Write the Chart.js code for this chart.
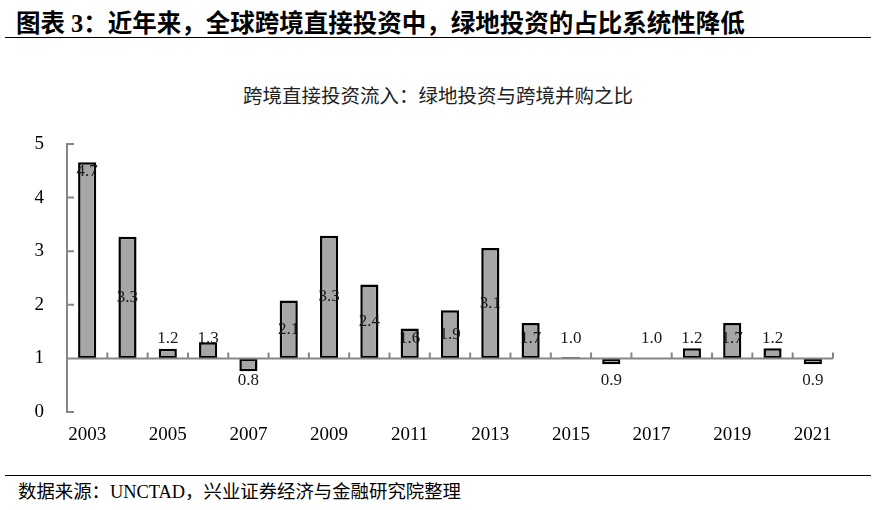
<!DOCTYPE html>
<html>
<head>
<meta charset="utf-8">
<script src="https://cdn.jsdelivr.net/npm/chart.js@4/dist/chart.umd.min.js"></script>
<style>
  body { margin: 0; background: #fff; width: 876px; height: 510px; position: relative; overflow: hidden;
         font-family: "Liberation Serif", "Noto Sans CJK SC", serif; color: #000; }
  #head { position: absolute; left: 16px; top: 4px; font-size: 24.5px; font-weight: bold; white-space: nowrap; }
  #ctitle { position: absolute; left: 0; width: 876px; top: 80px; text-align: center; font-size: 19.5px;
            color: #222; font-family: "Noto Sans CJK SC", sans-serif; white-space: nowrap; }
  .rule { position: absolute; left: 5px; width: 866px; height: 0; border-top: 1.5px solid #000; }
  #foot { position: absolute; left: 18px; top: 477px; font-size: 18.4px; white-space: nowrap; }
  #wrap { position: absolute; left: 0; top: 100px; width: 876px; height: 360px; }
</style>
</head>
<body>
<div id="head">图表 3：近年来，全球跨境直接投资中，绿地投资的占比系统性降低</div>
<div class="rule" style="top:37px"></div>
<div id="ctitle">跨境直接投资流入：绿地投资与跨境并购之比</div>
<div id="wrap"><canvas id="c"></canvas></div>
<div class="rule" style="top:475px"></div>
<div id="foot">数据来源：UNCTAD，兴业证券经济与金融研究院整理</div>
<script>
// ratio of greenfield investment to cross-border M&A
const years = ['2003','2004','2005','2006','2007','2008','2009','2010','2011','2012',
               '2013','2014','2015','2016','2017','2018','2019','2020','2021'];
const ratio = [4.66, 3.27, 1.18, 1.30, 0.76, 2.08, 3.29, 2.38, 1.56, 1.90,
               3.06, 1.66, 1.02, 0.89, 1.00, 1.19, 1.66, 1.19, 0.89];
const baseLine = 1;
const yTicks = [0, 1, 2, 3, 4, 5];

const AXIS_GREY = '#868686';
const SERIF = '"Liberation Serif", "Times New Roman", serif';

// grey axis line at 1 with category ticks, inward y ticks, value labels
const decorPlugin = {
  id: 'decor',
  afterDatasetsDraw(chart) {
    const { ctx, scales: { x, y }, chartArea } = chart;
    const yb = y.getPixelForValue(baseLine);
    ctx.save();
    ctx.strokeStyle = AXIS_GREY;
    ctx.lineWidth = 2;
    ctx.beginPath();
    ctx.moveTo(chartArea.left, yb);
    ctx.lineTo(chartArea.right, yb);
    for (let i = 0; i <= years.length; i++) {
      const px = x.getPixelForValue(i - 0.5);
      ctx.moveTo(px, yb);
      ctx.lineTo(px, yb - 6);
    }
    y.ticks.forEach((t) => {
      const py = y.getPixelForValue(t.value);
      ctx.moveTo(chartArea.left, py);
      ctx.lineTo(chartArea.left + 7, py);
    });
    ctx.stroke();

    ctx.fillStyle = '#1a1a1a';
    ctx.font = '17px ' + SERIF;
    ctx.textAlign = 'center';
    ctx.textBaseline = 'middle';
    const maxV = Math.max(...ratio);
    chart.getDatasetMeta(0).data.forEach((bar, i) => {
      const v = ratio[i];
      let ly;
      if (v < baseLine) ly = yb + 22;
      else if (v === maxV) ly = bar.y + 9;
      else ly = Math.min((bar.y + yb) / 2, yb - 20);
      ctx.fillText(v.toFixed(1), bar.x, ly);
    });
    ctx.restore();
  }
};

new Chart(document.getElementById('c'), {
  type: 'bar',
  data: {
    labels: years,
    datasets: [{
      data: ratio.map((v) => [baseLine, v]),
      backgroundColor: '#a6a6a6',
      borderColor: '#000',
      borderWidth: 2.5,
      borderSkipped: false,
      barPercentage: 0.9,
      categoryPercentage: 0.5
    }]
  },
  options: {
    responsive: true,
    maintainAspectRatio: false,
    animation: false,
    layout: { padding: { left: 0, right: 43, top: 44, bottom: 0 } },
    plugins: {
      legend: { display: false },
      tooltip: { enabled: false }
    },
    scales: {
      x: {
        grid: { display: false, drawTicks: false },
        border: { display: false },
        ticks: {
          autoSkip: false,
          maxRotation: 0,
          padding: 12,
          color: '#000',
          font: { family: SERIF, size: 19 },
          callback: (v, i) => (i % 2 === 0 ? years[i] : '')
        },
        afterFit: (s) => { s.height = 48; }
      },
      y: {
        min: yTicks[0],
        max: yTicks[yTicks.length - 1],
        afterBuildTicks: (s) => { s.ticks = yTicks.map((v) => ({ value: v })); },
        grid: { display: false, drawTicks: false },
        border: { display: true, color: AXIS_GREY, width: 2 },
        ticks: { padding: 23, color: '#000', font: { family: SERIF, size: 19 } },
        afterFit: (s) => { s.width = 67; }
      }
    }
  },
  plugins: [decorPlugin]
});
</script>
</body>
</html>
